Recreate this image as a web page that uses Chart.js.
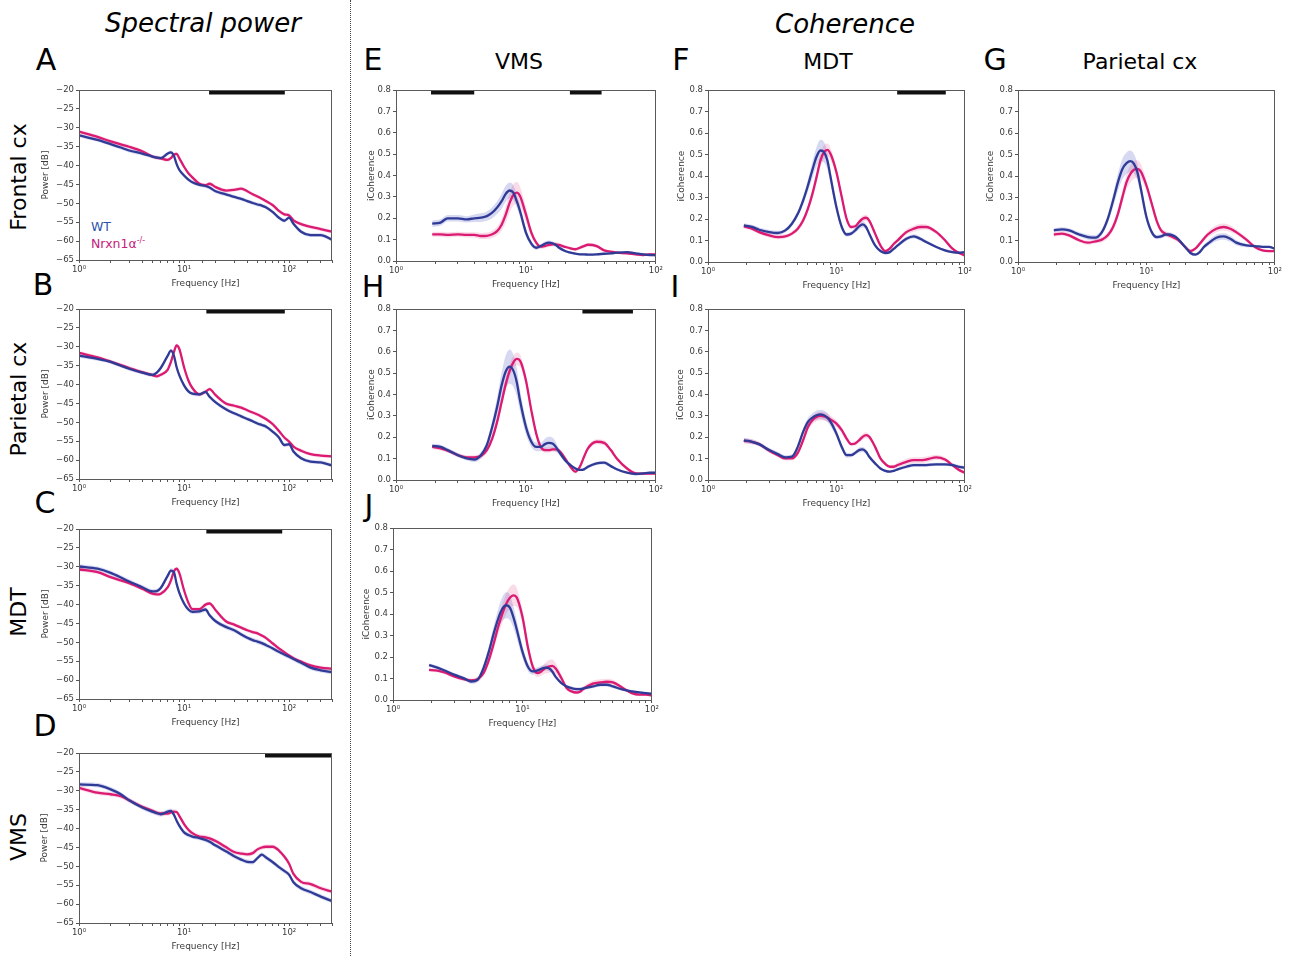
<!DOCTYPE html>
<html>
<head>
<meta charset="utf-8">
<script src="https://cdn.jsdelivr.net/npm/chart.js@4.4.1/dist/chart.umd.min.js"></script>
<style>
body { margin: 0; background: #fff; width: 1289px; height: 956px; position: relative; overflow: hidden; font-family: "DejaVu Sans", sans-serif; }
.lbl { position: absolute; white-space: nowrap; color: #000; line-height: 1; }
.ctr { transform: translate(-50%, -50%); }
.rot { transform: translate(-50%, -50%) rotate(-90deg); }
canvas { position: absolute; }
#divider { position: absolute; left: 350px; top: 0; width: 0; height: 956px; border-left: 1px dotted #444; }
</style>
</head>
<body>
<div id="divider"></div>

<div class="lbl ctr" style="left:203px;top:23px;font-size:26px;font-style:italic;">Spectral power</div>
<div class="lbl ctr" style="left:845px;top:24px;font-size:26px;font-style:italic;">Coherence</div>

<div class="lbl ctr" style="left:46px;top:60px;font-size:30px;">A</div>
<div class="lbl ctr" style="left:43px;top:285px;font-size:30px;">B</div>
<div class="lbl ctr" style="left:45px;top:503px;font-size:30px;">C</div>
<div class="lbl ctr" style="left:45px;top:726px;font-size:30px;">D</div>
<div class="lbl ctr" style="left:373px;top:60px;font-size:30px;">E</div>
<div class="lbl ctr" style="left:681px;top:60px;font-size:30px;">F</div>
<div class="lbl ctr" style="left:995px;top:60px;font-size:30px;">G</div>
<div class="lbl ctr" style="left:373px;top:287px;font-size:30px;">H</div>
<div class="lbl ctr" style="left:675px;top:287px;font-size:30px;">I</div>
<div class="lbl ctr" style="left:369px;top:506px;font-size:30px;">J</div>

<div class="lbl ctr" style="left:519px;top:62px;font-size:22px;">VMS</div>
<div class="lbl ctr" style="left:828px;top:62px;font-size:22px;">MDT</div>
<div class="lbl ctr" style="left:1140px;top:62px;font-size:22px;">Parietal cx</div>

<div class="lbl rot" style="left:19px;top:177px;font-size:22px;">Frontal cx</div>
<div class="lbl rot" style="left:19px;top:399px;font-size:22px;">Parietal cx</div>
<div class="lbl rot" style="left:19px;top:612px;font-size:22px;">MDT</div>
<div class="lbl rot" style="left:19px;top:837px;font-size:22px;">VMS</div>

<div class="lbl" style="left:91px;top:221px;font-size:12.5px;color:#2c52b0;">WT</div>
<div class="lbl" style="left:91px;top:237px;font-size:12.5px;color:#c5217c;">Nrxn1&alpha;<sup style="font-size:8px;">-/-</sup></div>

<script>
// frequency grids (Hz)
const powFreq = [1, 1.5, 2, 2.5, 3, 4, 5, 5.5, 6, 7, 7.5, 8, 8.5, 9, 10, 11, 12, 14, 16, 17.5, 20, 25, 30, 35, 40, 45, 50, 55, 60, 70, 80, 90, 100, 110, 130, 160, 200, 256];
const cohFreq = [1.9, 2.2, 2.5, 3, 3.5, 4, 4.5, 5, 5.5, 6, 6.5, 7, 7.5, 8, 8.5, 9, 10, 11, 12, 13, 14, 15, 16, 17, 18, 20, 22, 24, 26, 28, 30, 35, 40, 45, 50, 60, 70, 80, 90, 100];

// tick labels
const powYTicks = [-65, -60, -55, -50, -45, -40, -35, -30, -25, -20];
const cohYTicks = [0, 0.1, 0.2, 0.3, 0.4, 0.5, 0.6, 0.7, 0.8];
const decadeValues = [1, 10, 100];
const decadeLabels = ['10\u2070', '10\u00b9', '10\u00b2'];

// spectral power [dB]
const aWT = [-32, -33.2, -34.3, -35.2, -36, -36.8, -37.6, -37.9, -38, -36.8, -36.5, -37.4, -39.6, -41.1, -42.6, -43.7, -44.4, -45.1, -45.4, -45.8, -46.8, -47.6, -48.3, -48.8, -49.4, -49.9, -50.3, -50.6, -51, -52.3, -53.8, -54.6, -53.8, -55.4, -57.5, -58.4, -58.4, -59.6];
const aKO = [-31, -32.4, -33.6, -34.4, -35, -36.2, -37.6, -37.9, -38.1, -38.5, -38, -37.1, -36.9, -38, -40.3, -42, -43.1, -44.8, -45.2, -44.8, -45.7, -46.6, -46.4, -46.1, -46.8, -47.6, -48.2, -48.8, -49.4, -50.5, -52, -52.9, -53.2, -54.5, -55.5, -56.2, -56.8, -57.5];
const bWT = [-32.3, -33.2, -34, -35, -35.8, -36.8, -37.4, -36.8, -35.6, -32.3, -31, -32.3, -35.4, -37.5, -40.2, -41.8, -42.4, -42.6, -41.9, -43.2, -44.7, -46.5, -47.6, -48.4, -49.1, -49.7, -50.3, -50.7, -51.1, -52.5, -54, -56, -55.8, -57.7, -59.5, -60.4, -60.6, -61.4];
const bKO = [-31.6, -32.8, -33.9, -34.8, -35.6, -36.7, -37.5, -37.8, -37.4, -36, -34, -31.4, -29.6, -30.5, -35.4, -38.9, -40.9, -42.6, -41.9, -41.2, -42.8, -45, -45.6, -46.1, -46.8, -47.4, -47.9, -48.5, -49.1, -50.5, -52.3, -54, -55.1, -56.4, -57.5, -58.4, -58.8, -59];
const cWT = [-29.9, -30.5, -31.6, -32.8, -33.9, -35.4, -36.5, -36.4, -35.6, -32.3, -31, -31.4, -34.5, -36.8, -39.7, -41.3, -41.9, -41.8, -41.3, -42.8, -44.4, -45.9, -46.8, -47.9, -48.8, -49.4, -49.8, -50.2, -50.7, -51.6, -52.5, -53.2, -53.8, -54.4, -55.4, -56.7, -57.4, -57.9];
const cKO = [-30.7, -31.4, -32.7, -33.6, -34.3, -35.8, -37.1, -37.3, -37.1, -35.4, -33.6, -31.2, -30.5, -31.6, -36.2, -39.5, -41.2, -41.2, -40, -39.7, -41.5, -44.4, -45.3, -46.1, -46.8, -47.3, -47.6, -48.2, -48.8, -50.3, -51.6, -52.6, -53.5, -54.2, -55.1, -56.1, -56.7, -57];
const dWT = [-28.3, -28.5, -29.6, -30.9, -32.5, -34.4, -35.5, -35.9, -36.2, -35.5, -35.3, -36.3, -37.9, -39.2, -41, -41.7, -42.1, -42.5, -43, -43.5, -44.5, -46, -47.3, -48.2, -48.8, -48.9, -47.8, -46.9, -47.6, -48.9, -50.2, -51.2, -52.2, -54.2, -55.8, -56.8, -58, -59.2];
const dKO = [-29.2, -30.5, -30.9, -31.4, -32.5, -34.2, -35.3, -35.8, -36, -36, -35.7, -35.5, -35.6, -36.6, -38.8, -40.3, -41.2, -42.1, -42.3, -42.6, -43.3, -44.9, -46.2, -46.6, -46.8, -46.5, -45.5, -45, -44.8, -44.8, -45.8, -47.4, -49.3, -52, -54.1, -54.7, -55.8, -56.7];
// s.e.m. of the power curves, panels A-D
const powSemWT = [0.5, 0.5, 0.6, 0.6];
const powSemKO = [0.5, 0.5, 0.5, 0.6];

// imaginary coherence
const eWT = [0.175, 0.18, 0.2, 0.2, 0.195, 0.2, 0.203, 0.21, 0.226, 0.25, 0.28, 0.315, 0.33, 0.32, 0.28, 0.234, 0.133, 0.081, 0.062, 0.07, 0.081, 0.086, 0.083, 0.075, 0.062, 0.047, 0.039, 0.034, 0.031, 0.031, 0.03, 0.031, 0.034, 0.036, 0.039, 0.042, 0.036, 0.031, 0.028, 0.027];
const eKO = [0.125, 0.125, 0.122, 0.125, 0.122, 0.122, 0.117, 0.118, 0.125, 0.14, 0.17, 0.218, 0.273, 0.309, 0.32, 0.304, 0.218, 0.133, 0.086, 0.067, 0.07, 0.075, 0.078, 0.078, 0.075, 0.066, 0.059, 0.055, 0.062, 0.07, 0.076, 0.07, 0.05, 0.044, 0.039, 0.036, 0.031, 0.028, 0.031, 0.031];
const fWT = [0.17, 0.163, 0.15, 0.139, 0.135, 0.147, 0.178, 0.224, 0.286, 0.356, 0.429, 0.49, 0.519, 0.511, 0.472, 0.395, 0.255, 0.163, 0.128, 0.132, 0.147, 0.166, 0.175, 0.163, 0.132, 0.077, 0.051, 0.042, 0.046, 0.062, 0.077, 0.108, 0.119, 0.108, 0.093, 0.07, 0.054, 0.046, 0.043, 0.046];
const fKO = [0.166, 0.155, 0.139, 0.124, 0.116, 0.119, 0.132, 0.155, 0.193, 0.248, 0.317, 0.395, 0.472, 0.511, 0.522, 0.503, 0.418, 0.302, 0.201, 0.163, 0.166, 0.186, 0.201, 0.206, 0.193, 0.132, 0.077, 0.051, 0.062, 0.085, 0.101, 0.139, 0.155, 0.163, 0.163, 0.139, 0.101, 0.062, 0.042, 0.031];
const gWT = [0.147, 0.152, 0.147, 0.128, 0.116, 0.113, 0.139, 0.201, 0.286, 0.372, 0.433, 0.46, 0.469, 0.457, 0.418, 0.348, 0.209, 0.139, 0.116, 0.119, 0.127, 0.128, 0.124, 0.116, 0.101, 0.07, 0.042, 0.034, 0.046, 0.07, 0.085, 0.113, 0.119, 0.108, 0.09, 0.077, 0.074, 0.07, 0.07, 0.062];
const gKO = [0.128, 0.132, 0.124, 0.101, 0.09, 0.096, 0.104, 0.124, 0.163, 0.224, 0.302, 0.372, 0.41, 0.429, 0.433, 0.423, 0.356, 0.271, 0.193, 0.147, 0.132, 0.124, 0.116, 0.108, 0.098, 0.07, 0.051, 0.062, 0.085, 0.108, 0.128, 0.155, 0.163, 0.155, 0.139, 0.104, 0.07, 0.054, 0.051, 0.051];
const hWT = [0.16, 0.155, 0.14, 0.116, 0.101, 0.096, 0.116, 0.163, 0.248, 0.342, 0.443, 0.509, 0.531, 0.512, 0.458, 0.373, 0.248, 0.179, 0.155, 0.155, 0.168, 0.174, 0.171, 0.155, 0.132, 0.093, 0.07, 0.054, 0.047, 0.05, 0.062, 0.078, 0.081, 0.065, 0.05, 0.034, 0.028, 0.031, 0.034, 0.034];
const hKO = [0.155, 0.148, 0.137, 0.116, 0.106, 0.106, 0.112, 0.14, 0.194, 0.272, 0.365, 0.45, 0.512, 0.551, 0.567, 0.559, 0.466, 0.326, 0.217, 0.155, 0.14, 0.14, 0.143, 0.143, 0.137, 0.101, 0.062, 0.039, 0.062, 0.109, 0.148, 0.179, 0.174, 0.14, 0.101, 0.054, 0.031, 0.03, 0.03, 0.03];
const iWT = [0.186, 0.179, 0.168, 0.14, 0.121, 0.106, 0.109, 0.155, 0.225, 0.272, 0.292, 0.303, 0.307, 0.303, 0.292, 0.272, 0.217, 0.155, 0.116, 0.116, 0.127, 0.14, 0.143, 0.132, 0.109, 0.078, 0.054, 0.043, 0.039, 0.043, 0.05, 0.062, 0.07, 0.07, 0.07, 0.073, 0.073, 0.07, 0.062, 0.057];
const iKO = [0.183, 0.179, 0.168, 0.137, 0.116, 0.101, 0.101, 0.127, 0.186, 0.248, 0.28, 0.295, 0.3, 0.298, 0.292, 0.283, 0.264, 0.233, 0.194, 0.168, 0.171, 0.186, 0.202, 0.21, 0.202, 0.155, 0.101, 0.075, 0.062, 0.062, 0.07, 0.085, 0.093, 0.093, 0.096, 0.106, 0.096, 0.07, 0.047, 0.034];
const jWT = [0.162, 0.151, 0.137, 0.117, 0.102, 0.086, 0.094, 0.148, 0.225, 0.31, 0.379, 0.425, 0.441, 0.43, 0.387, 0.333, 0.225, 0.156, 0.133, 0.137, 0.145, 0.151, 0.148, 0.133, 0.109, 0.079, 0.063, 0.055, 0.051, 0.051, 0.055, 0.063, 0.071, 0.071, 0.063, 0.048, 0.04, 0.035, 0.032, 0.029];
const jKO = [0.14, 0.137, 0.128, 0.109, 0.097, 0.091, 0.097, 0.125, 0.186, 0.263, 0.341, 0.402, 0.448, 0.476, 0.487, 0.479, 0.387, 0.248, 0.156, 0.125, 0.133, 0.148, 0.156, 0.159, 0.148, 0.102, 0.055, 0.04, 0.035, 0.04, 0.055, 0.076, 0.082, 0.085, 0.082, 0.055, 0.032, 0.025, 0.025, 0.022];

// s.e.m. of the coherence curves
const eWTsem = [0.015, 0.015, 0.015, 0.015, 0.015, 0.018, 0.02, 0.022, 0.026, 0.03, 0.035, 0.038, 0.038, 0.035, 0.03, 0.028, 0.02, 0.012, 0.01, 0.01, 0.01, 0.01, 0.01, 0.008, 0.008, 0.006, 0.005, 0.005, 0.005, 0.005, 0.005, 0.005, 0.005, 0.005, 0.005, 0.005, 0.005, 0.005, 0.005, 0.005];
const eKOsem = [0.012, 0.012, 0.012, 0.012, 0.012, 0.012, 0.014, 0.015, 0.017, 0.02, 0.028, 0.038, 0.045, 0.05, 0.05, 0.045, 0.035, 0.02, 0.012, 0.01, 0.01, 0.01, 0.01, 0.01, 0.01, 0.008, 0.008, 0.008, 0.008, 0.008, 0.008, 0.008, 0.007, 0.006, 0.006, 0.006, 0.006, 0.006, 0.006, 0.006];
const fWTsem = [0.01, 0.01, 0.01, 0.01, 0.01, 0.01, 0.012, 0.015, 0.02, 0.028, 0.038, 0.045, 0.05, 0.048, 0.04, 0.032, 0.02, 0.012, 0.01, 0.01, 0.012, 0.015, 0.015, 0.012, 0.01, 0.008, 0.006, 0.006, 0.006, 0.006, 0.008, 0.01, 0.01, 0.01, 0.008, 0.006, 0.006, 0.006, 0.006, 0.006];
const fKOsem = [0.01, 0.01, 0.01, 0.01, 0.01, 0.01, 0.01, 0.012, 0.015, 0.018, 0.022, 0.026, 0.03, 0.032, 0.03, 0.028, 0.022, 0.016, 0.012, 0.01, 0.01, 0.012, 0.014, 0.014, 0.012, 0.01, 0.008, 0.008, 0.008, 0.008, 0.01, 0.012, 0.014, 0.014, 0.012, 0.01, 0.008, 0.006, 0.006, 0.006];
const gWTsem = [0.01, 0.01, 0.01, 0.01, 0.012, 0.012, 0.015, 0.02, 0.03, 0.04, 0.048, 0.05, 0.05, 0.045, 0.04, 0.032, 0.02, 0.012, 0.01, 0.01, 0.01, 0.01, 0.01, 0.01, 0.01, 0.008, 0.006, 0.006, 0.008, 0.01, 0.012, 0.015, 0.015, 0.014, 0.012, 0.008, 0.006, 0.006, 0.006, 0.006];
const gKOsem = [0.01, 0.01, 0.01, 0.01, 0.01, 0.01, 0.012, 0.015, 0.018, 0.022, 0.028, 0.035, 0.04, 0.042, 0.04, 0.035, 0.025, 0.018, 0.014, 0.012, 0.012, 0.012, 0.012, 0.01, 0.01, 0.008, 0.008, 0.008, 0.01, 0.012, 0.014, 0.016, 0.016, 0.015, 0.012, 0.01, 0.008, 0.006, 0.006, 0.006];
const hWTsem = [0.01, 0.01, 0.01, 0.01, 0.01, 0.012, 0.015, 0.02, 0.03, 0.045, 0.06, 0.075, 0.08, 0.075, 0.065, 0.05, 0.035, 0.025, 0.02, 0.02, 0.025, 0.028, 0.028, 0.022, 0.015, 0.01, 0.008, 0.006, 0.006, 0.006, 0.008, 0.008, 0.008, 0.008, 0.006, 0.006, 0.006, 0.006, 0.006, 0.006];
const hKOsem = [0.01, 0.01, 0.01, 0.01, 0.01, 0.01, 0.012, 0.015, 0.018, 0.022, 0.025, 0.028, 0.03, 0.03, 0.03, 0.028, 0.025, 0.02, 0.015, 0.012, 0.012, 0.012, 0.012, 0.012, 0.01, 0.008, 0.008, 0.008, 0.008, 0.01, 0.012, 0.012, 0.012, 0.01, 0.008, 0.006, 0.006, 0.006, 0.006, 0.006];
const iWTsem = [0.012, 0.012, 0.01, 0.01, 0.01, 0.01, 0.01, 0.012, 0.015, 0.018, 0.02, 0.022, 0.022, 0.022, 0.02, 0.02, 0.018, 0.015, 0.012, 0.01, 0.01, 0.012, 0.012, 0.012, 0.01, 0.008, 0.006, 0.006, 0.006, 0.006, 0.006, 0.008, 0.008, 0.008, 0.008, 0.008, 0.008, 0.008, 0.008, 0.008];
const iKOsem = [0.012, 0.012, 0.01, 0.01, 0.01, 0.01, 0.01, 0.012, 0.014, 0.016, 0.018, 0.02, 0.02, 0.02, 0.02, 0.018, 0.016, 0.014, 0.012, 0.01, 0.01, 0.012, 0.014, 0.014, 0.012, 0.01, 0.008, 0.008, 0.008, 0.01, 0.012, 0.014, 0.014, 0.014, 0.014, 0.012, 0.01, 0.008, 0.008, 0.008];
const jWTsem = [0.008, 0.008, 0.008, 0.008, 0.008, 0.01, 0.012, 0.018, 0.025, 0.035, 0.045, 0.055, 0.06, 0.058, 0.05, 0.042, 0.03, 0.02, 0.015, 0.014, 0.014, 0.014, 0.014, 0.012, 0.01, 0.008, 0.008, 0.008, 0.008, 0.008, 0.008, 0.008, 0.008, 0.008, 0.008, 0.006, 0.006, 0.006, 0.006, 0.006];
const jKOsem = [0.008, 0.008, 0.008, 0.008, 0.008, 0.01, 0.012, 0.015, 0.02, 0.028, 0.035, 0.042, 0.048, 0.05, 0.05, 0.045, 0.035, 0.025, 0.02, 0.018, 0.02, 0.025, 0.03, 0.03, 0.025, 0.015, 0.01, 0.008, 0.008, 0.01, 0.012, 0.014, 0.014, 0.014, 0.012, 0.008, 0.006, 0.006, 0.006, 0.006];

// significance bars [from Hz, to Hz]
const sigA = [[17.3, 91]];
const sigB = [[16.3, 91]];
const sigC = [[16.3, 86]];
const sigD = [[59, 256]];
const sigE = [[1.86, 4.0], [21.8, 38.2]];
const sigF = [[29.7, 71]];
const sigH = [[27.2, 66.6]];
const sigPowLevel = -20.7;
const sigCohLevel = 0.788;

const WT_COLOR = '#2f3b96';
const KO_COLOR = '#db1a72';
const WT_BAND = 'rgba(70, 80, 190, 0.22)';
const KO_BAND = 'rgba(225, 40, 120, 0.17)';

// frame round the plot area (matplotlib spines)
const framePlugin = {
    id: 'frame',
    afterDatasetsDraw(chart) {
        var a = chart.chartArea;
        var ctx = chart.ctx;
        ctx.save();
        ctx.strokeStyle = '#5a5a5a';
        ctx.lineWidth = 1;
        ctx.strokeRect(Math.round(a.left) + 0.5, Math.round(a.top) + 0.5, Math.round(a.width) - 1, Math.round(a.height));
        ctx.restore();
    }
};

// mean curve (sign 0) or upper / lower edge of the s.e.m. band (sign +1 / -1)
function points(freq, vals, sem, sign) {
    return freq.map(function (f, i) {
        var off = sem ? sign * sem[i] : 0;
        return { x: f, y: vals[i] + off };
    });
}

function fmtMinus(v) {
    return v < 0 ? '\u2212' + Math.abs(v) : String(v);
}

function makePanel(p) {
    var L = p.box[0], T = p.box[1], R = p.box[2], B = p.box[3];
    var yw = L - (p.yTitleX - 5);
    var xh = 31;
    var padTop = 6, padRight = 9;
    var canvas = document.createElement('canvas');
    canvas.width = yw + (R - L) + padRight;
    canvas.height = padTop + (B - T) + xh;
    canvas.style.left = (L - yw) + 'px';
    canvas.style.top = (T - padTop) + 'px';
    document.body.appendChild(canvas);

    var isPow = p.kind === 'pow';
    var datasets = [];
    p.sig.forEach(function (s) {
        var lvl = isPow ? sigPowLevel : sigCohLevel;
        datasets.push({ data: [{ x: s[0], y: lvl }, { x: s[1], y: lvl }], borderColor: '#111', borderWidth: 3.5, pointRadius: 0, borderCapStyle: 'butt', fill: false });
    });
    datasets.push({ data: points(p.freq, p.wt), borderColor: WT_COLOR, borderWidth: 2.3, pointRadius: 0, fill: false, cubicInterpolationMode: 'monotone' });
    datasets.push({ data: points(p.freq, p.ko), borderColor: KO_COLOR, borderWidth: 2.3, pointRadius: 0, fill: false, cubicInterpolationMode: 'monotone' });
    datasets.push({ data: points(p.freq, p.ko, p.koSem, 1), borderWidth: 0, pointRadius: 0, backgroundColor: KO_BAND, fill: '+1', cubicInterpolationMode: 'monotone' });
    datasets.push({ data: points(p.freq, p.ko, p.koSem, -1), borderWidth: 0, pointRadius: 0, fill: false, cubicInterpolationMode: 'monotone' });
    datasets.push({ data: points(p.freq, p.wt, p.wtSem, 1), borderWidth: 0, pointRadius: 0, backgroundColor: WT_BAND, fill: '+1', cubicInterpolationMode: 'monotone' });
    datasets.push({ data: points(p.freq, p.wt, p.wtSem, -1), borderWidth: 0, pointRadius: 0, fill: false, cubicInterpolationMode: 'monotone' });

    var yTicks = isPow ? powYTicks : cohYTicks;

    new Chart(canvas.getContext('2d'), {
        type: 'line',
        data: { datasets: datasets },
        options: {
            responsive: false,
            animation: false,
            events: [],
            layout: { padding: { top: padTop, right: padRight, left: 0, bottom: 0 } },
            plugins: { legend: { display: false }, tooltip: { enabled: false } },
            scales: {
                x: {
                    type: 'logarithmic',
                    min: 1,
                    max: isPow ? 256 : 100,
                    border: { display: false },
                    grid: { drawOnChartArea: false, tickLength: 3, color: '#555', tickColor: '#555' },
                    ticks: {
                        autoSkip: false, maxRotation: 0, padding: 2, color: '#3a3a3a',
                        font: { family: 'DejaVu Sans', size: 8.5 },
                        callback: function (v) {
                            var k = decadeValues.indexOf(v);
                            return k >= 0 ? decadeLabels[k] : '';
                        }
                    },
                    title: { display: true, text: 'Frequency [Hz]', color: '#3a3a3a', font: { family: 'DejaVu Sans', size: 9 }, padding: { top: 0, bottom: 2 } },
                    afterFit: function (s) { s.height = xh; }
                },
                y: {
                    min: yTicks[0],
                    max: yTicks[yTicks.length - 1],
                    border: { display: false },
                    grid: { drawOnChartArea: false, tickLength: 3, color: '#555', tickColor: '#555' },
                    afterBuildTicks: function (s) { s.ticks = yTicks.map(function (v) { return { value: v }; }); },
                    ticks: {
                        padding: 2, color: '#3a3a3a',
                        font: { family: 'DejaVu Sans', size: 8.5 },
                        callback: function (v) { return isPow ? fmtMinus(v) : v.toFixed(1); }
                    },
                    title: { display: true, text: isPow ? 'Power [dB]' : 'iCoherence', color: '#3a3a3a', font: { family: 'DejaVu Sans', size: 9 }, padding: { top: 1, bottom: 0 } },
                    afterFit: function (s) { s.width = yw; }
                }
            }
        },
        plugins: [framePlugin]
    });
}

function flat(v, n) {
    var out = [];
    for (var i = 0; i < n; i++) out.push(v);
    return out;
}

var nP = powFreq.length;
var panels = [
    { kind: 'pow', box: [79, 89, 332, 260], yTitleX: 44, freq: powFreq, wt: aWT, ko: aKO, wtSem: flat(powSemWT[0], nP), koSem: flat(powSemKO[0], nP), sig: sigA },
    { kind: 'pow', box: [79, 308, 332, 479], yTitleX: 44, freq: powFreq, wt: bWT, ko: bKO, wtSem: flat(powSemWT[1], nP), koSem: flat(powSemKO[1], nP), sig: sigB },
    { kind: 'pow', box: [79, 528, 332, 699], yTitleX: 44, freq: powFreq, wt: cWT, ko: cKO, wtSem: flat(powSemWT[2], nP), koSem: flat(powSemKO[2], nP), sig: sigC },
    { kind: 'pow', box: [79, 752, 332, 923], yTitleX: 43, freq: powFreq, wt: dWT, ko: dKO, wtSem: flat(powSemWT[3], nP), koSem: flat(powSemKO[3], nP), sig: sigD },
    { kind: 'coh', box: [396, 89, 656, 261], yTitleX: 370, freq: cohFreq, wt: eWT, ko: eKO, wtSem: eWTsem, koSem: eKOsem, sig: sigE },
    { kind: 'coh', box: [708, 89, 965, 262], yTitleX: 680, freq: cohFreq, wt: fWT, ko: fKO, wtSem: fWTsem, koSem: fKOsem, sig: sigF },
    { kind: 'coh', box: [1018, 89, 1275, 262], yTitleX: 989, freq: cohFreq, wt: gWT, ko: gKO, wtSem: gWTsem, koSem: gKOsem, sig: [] },
    { kind: 'coh', box: [396, 308, 656, 480], yTitleX: 370, freq: cohFreq, wt: hWT, ko: hKO, wtSem: hWTsem, koSem: hKOsem, sig: sigH },
    { kind: 'coh', box: [708, 308, 965, 480], yTitleX: 679, freq: cohFreq, wt: iWT, ko: iKO, wtSem: iWTsem, koSem: iKOsem, sig: [] },
    { kind: 'coh', box: [393, 527, 652, 700], yTitleX: 365, freq: cohFreq, wt: jWT, ko: jKO, wtSem: jWTsem, koSem: jKOsem, sig: [] }
];

panels.forEach(makePanel);
</script>
</body>
</html>
